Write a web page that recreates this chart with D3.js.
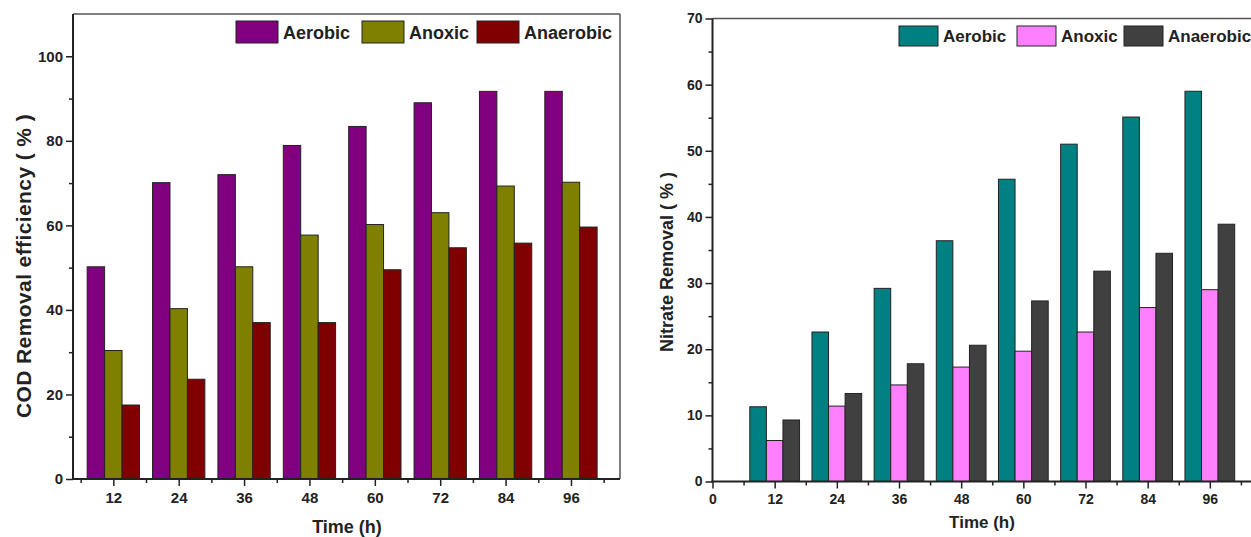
<!DOCTYPE html>
<html>
<head>
<meta charset="utf-8">
<script src="https://cdn.jsdelivr.net/npm/d3@7.9.0/dist/d3.min.js"></script>
<style>
  html, body { margin: 0; padding: 0; background: #fff; overflow: hidden; }
  svg { display: block; font-family: "Liberation Sans", Arial, sans-serif; font-weight: bold; }
</style>
</head>
<body>
<svg id="chart" width="1251" height="537"></svg>
<script>
// time points (h)
const times = [12, 24, 36, 48, 60, 72, 84, 96];
const seriesNames = ['Aerobic', 'Anoxic', 'Anaerobic'];

// COD removal efficiency (%)
const codAerobic   = [50.2, 70.1, 72.0, 78.9, 83.4, 89.0, 91.7, 91.7];
const codAnoxic    = [30.4, 40.3, 50.2, 57.7, 60.2, 63.0, 69.3, 70.2];
const codAnaerobic = [17.5, 23.6, 37.0, 37.0, 49.5, 54.7, 55.8, 59.6];

// Nitrate removal (%)
const nitAerobic   = [11.3, 22.6, 29.2, 36.4, 45.7, 51.0, 55.1, 59.0];
const nitAnoxic    = [6.2, 11.4, 14.6, 17.3, 19.7, 22.6, 26.3, 29.0];
const nitAnaerobic = [9.3, 13.3, 17.8, 20.6, 27.3, 31.8, 34.5, 38.9];

const codTicks = [0, 20, 40, 60, 80, 100];
const codMinor = [10, 30, 50, 70, 90];
const nitTicks = [0, 10, 20, 30, 40, 50, 60, 70];
const nitMinor = [5, 15, 25, 35, 45, 55, 65];
const timeMinor = [6, 18, 30, 42, 54, 66, 78, 90, 102];

const svg = d3.select('#chart');

function drawPanel(opt) {
  const g = svg.append('g');
  const x = d3.scaleLinear().domain(opt.xDomain).range([opt.left, opt.right]);
  const y = d3.scaleLinear().domain(opt.yDomain).range([opt.bottom, opt.top]);
  const barW = 3.2; // hours per bar

  // frame (top/right in grey)
  g.append('line').attr('x1', opt.left).attr('x2', opt.right).attr('y1', opt.top).attr('y2', opt.top)
    .attr('stroke', '#555').attr('stroke-width', 1.5);
  g.append('line').attr('x1', opt.right).attr('x2', opt.right).attr('y1', opt.top).attr('y2', opt.bottom)
    .attr('stroke', '#555').attr('stroke-width', 1.5);

  // bars
  opt.series.forEach((vals, si) => {
    g.selectAll(null).data(times).enter().append('rect')
      .attr('x', (t) => x(t + (si - 1.5) * barW))
      .attr('width', x(barW) - x(0))
      .attr('y', (t, i) => y(vals[i]))
      .attr('height', (t, i) => y(0) - y(vals[i]))
      .attr('fill', opt.colors[si])
      .attr('stroke', '#222')
      .attr('stroke-width', 1);
  });

  // y axis
  g.append('g').attr('transform', `translate(${opt.left},0)`)
    .call(d3.axisLeft(y).tickValues(opt.yTicks).tickSize(7).tickPadding(3).tickSizeOuter(0));
  g.append('g').attr('transform', `translate(${opt.left},0)`)
    .call(d3.axisLeft(y).tickValues(opt.yMinor).tickSize(4).tickFormat('').tickSizeOuter(0));

  // x axis
  g.append('g').attr('transform', `translate(0,${opt.bottom})`)
    .call(d3.axisBottom(x).tickValues(opt.xTicks).tickSize(7).tickPadding(6).tickSizeOuter(0));
  g.append('g').attr('transform', `translate(0,${opt.bottom})`)
    .call(d3.axisBottom(x).tickValues(timeMinor).tickSize(4).tickFormat('').tickSizeOuter(0));

  g.selectAll('.domain').remove();
  g.selectAll('.tick line').attr('stroke', '#222').attr('stroke-width', 1.5);
  g.selectAll('.tick text').attr('fill', '#222').style('font-size', opt.tickFont + 'px')
    .style('font-family', '"Liberation Sans", Arial, sans-serif').style('font-weight', 'bold');

  g.append('line').attr('x1', opt.left).attr('x2', opt.left).attr('y1', opt.top).attr('y2', opt.bottom + 1)
    .attr('stroke', '#222').attr('stroke-width', 2);
  g.append('line').attr('x1', opt.left - 1).attr('x2', opt.right).attr('y1', opt.bottom).attr('y2', opt.bottom)
    .attr('stroke', '#222').attr('stroke-width', 2);

  // axis titles
  g.append('text').attr('x', opt.xTitle[0]).attr('y', opt.xTitle[1])
    .attr('text-anchor', 'middle').attr('fill', '#222').style('font-size', opt.titleFont + 'px')
    .text('Time (h)');
  g.append('text').attr('transform', `translate(${opt.yTitle[0]},${opt.yTitle[1]}) rotate(-90)`)
    .attr('text-anchor', 'middle').attr('fill', '#222').style('font-size', opt.yTitleFont + 'px')
    .style('letter-spacing', opt.yTitleSpacing + 'px')
    .text(opt.yLabel);

  // legend
  seriesNames.forEach((name, i) => {
    const lx = opt.legendX[i];
    g.append('rect').attr('x', lx).attr('y', opt.legendY).attr('width', opt.swatchW).attr('height', opt.swatchH)
      .attr('fill', opt.colors[i]).attr('stroke', '#222').attr('stroke-width', 1);
    g.append('text').attr('x', lx + opt.swatchW + 5).attr('y', opt.legendY + opt.swatchH - 4)
      .attr('fill', '#222').style('font-size', opt.legendFont + 'px').text(name);
  });
}

drawPanel({
  series: [codAerobic, codAnoxic, codAnaerobic],
  colors: ['#800080', '#808000', '#800000'],
  xDomain: [4.6, 105], left: 73, right: 620,
  yDomain: [0, 110], top: 14, bottom: 479,
  yTicks: codTicks, yMinor: codMinor, xTicks: times,
  tickFont: 15, titleFont: 18, legendFont: 18,
  yTitleFont: 21, yTitleSpacing: 0.4,
  xTitle: [347, 533], yTitle: [31, 266],
  yLabel: 'COD Removal efficiency ( % )',
  legendX: [236, 362, 477], legendY: 21, swatchW: 42, swatchH: 22
});

drawPanel({
  series: [nitAerobic, nitAnoxic, nitAnaerobic],
  colors: ['#008080', '#ff80ff', '#404040'],
  xDomain: [0, 108], left: 712.5, right: 1272,
  yDomain: [0, 70], top: 18.5, bottom: 481.5,
  yTicks: nitTicks, yMinor: nitMinor, xTicks: [0].concat(times),
  tickFont: 14, titleFont: 17, legendFont: 17,
  yTitleFont: 18, yTitleSpacing: 0,
  xTitle: [982, 528], yTitle: [673, 262],
  yLabel: 'Nitrate Removal ( % )',
  legendX: [899, 1017, 1124], legendY: 26, swatchW: 39, swatchH: 20
});
</script>
</body>
</html>
